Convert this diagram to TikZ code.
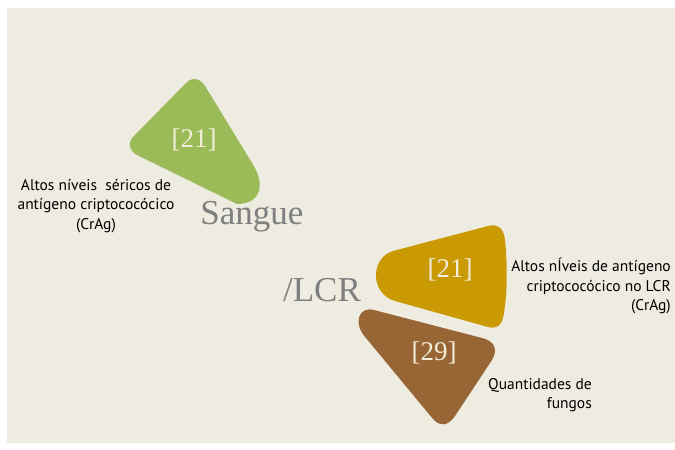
\documentclass[tikz,border=0pt]{standalone}
\usepackage{fontspec}
\setmainfont{Liberation Serif}
\newfontfamily\labfont{PT Sans}
\definecolor{bg}{HTML}{EEEBE1}
\definecolor{cgreen}{HTML}{9BBB59}
\definecolor{cgold}{HTML}{C99A04}
\definecolor{cbrown}{HTML}{986534}
\definecolor{cgrey}{HTML}{7F7F7F}
\definecolor{cnum}{HTML}{F2EDD8}
\tikzset{
  numtxt/.style={text=cnum, font=\fontsize{27}{27}\selectfont},
  bigtxt/.style={text=cgrey, font=\fontsize{35}{35}\selectfont},
  labtxt/.style={text=black, font=\labfont\fontsize{15.5}{19.5}\selectfont, inner sep=0pt},
}
\begin{document}
\begin{tikzpicture}[x=1pt,y=-1pt]
\useasboundingbox (0,0) rectangle (675,450);
\fill[white] (0,0) rectangle (675,450);
\fill[bg] (7,8) rectangle (675,443);
% green
\fill[cgreen] (185,84) .. controls (191,77) and (199,77) .. (205,86)
  -- (252,163) .. controls (266,184) and (261,204) .. (237,204)
  -- (139,156) .. controls (128,151) and (127,142) .. (135,135) -- cycle;
% gold
\fill[cgold] (393,251) -- (488,226) .. controls (499,223) and (504,230) .. (505,240)
  .. controls (508,270) and (507,300) .. (503,318)
  .. controls (501,326) and (496,329) .. (488,327)
  -- (395,301) .. controls (370,294) and (370,258) .. (393,251) -- cycle;
% brown
\fill[cbrown] (374,310) -- (482,338) .. controls (495,341) and (498,350) .. (492,360)
  -- (455,416) .. controls (448,426) and (440,427) .. (433,419)
  -- (366,338) .. controls (353,324) and (358,306) .. (374,310) -- cycle;
\node[numtxt] (n1) at (194,140) {[21]};
\node[numtxt] (n2) at (450,270) {[21]};
\node[numtxt] (n3) at (434,353) {[29]};
\node[bigtxt] (s) at (252,217) {Sangue};
\node[bigtxt] (l) at (322,290) {/LCR};
\node[labtxt, align=center] (a1) at (96,206) {Altos níveis\ \ séricos de\\antígeno criptococócico\\(CrAg)};
\node[labtxt, align=right, anchor=east] (a2) at (671,286) {Altos nÍveis de antígeno\\criptococócico no LCR\\(CrAg)};
\node[labtxt, align=right, anchor=east] (a3) at (592,395) {Quantidades de\\fungos};
\end{tikzpicture}
\end{document}
